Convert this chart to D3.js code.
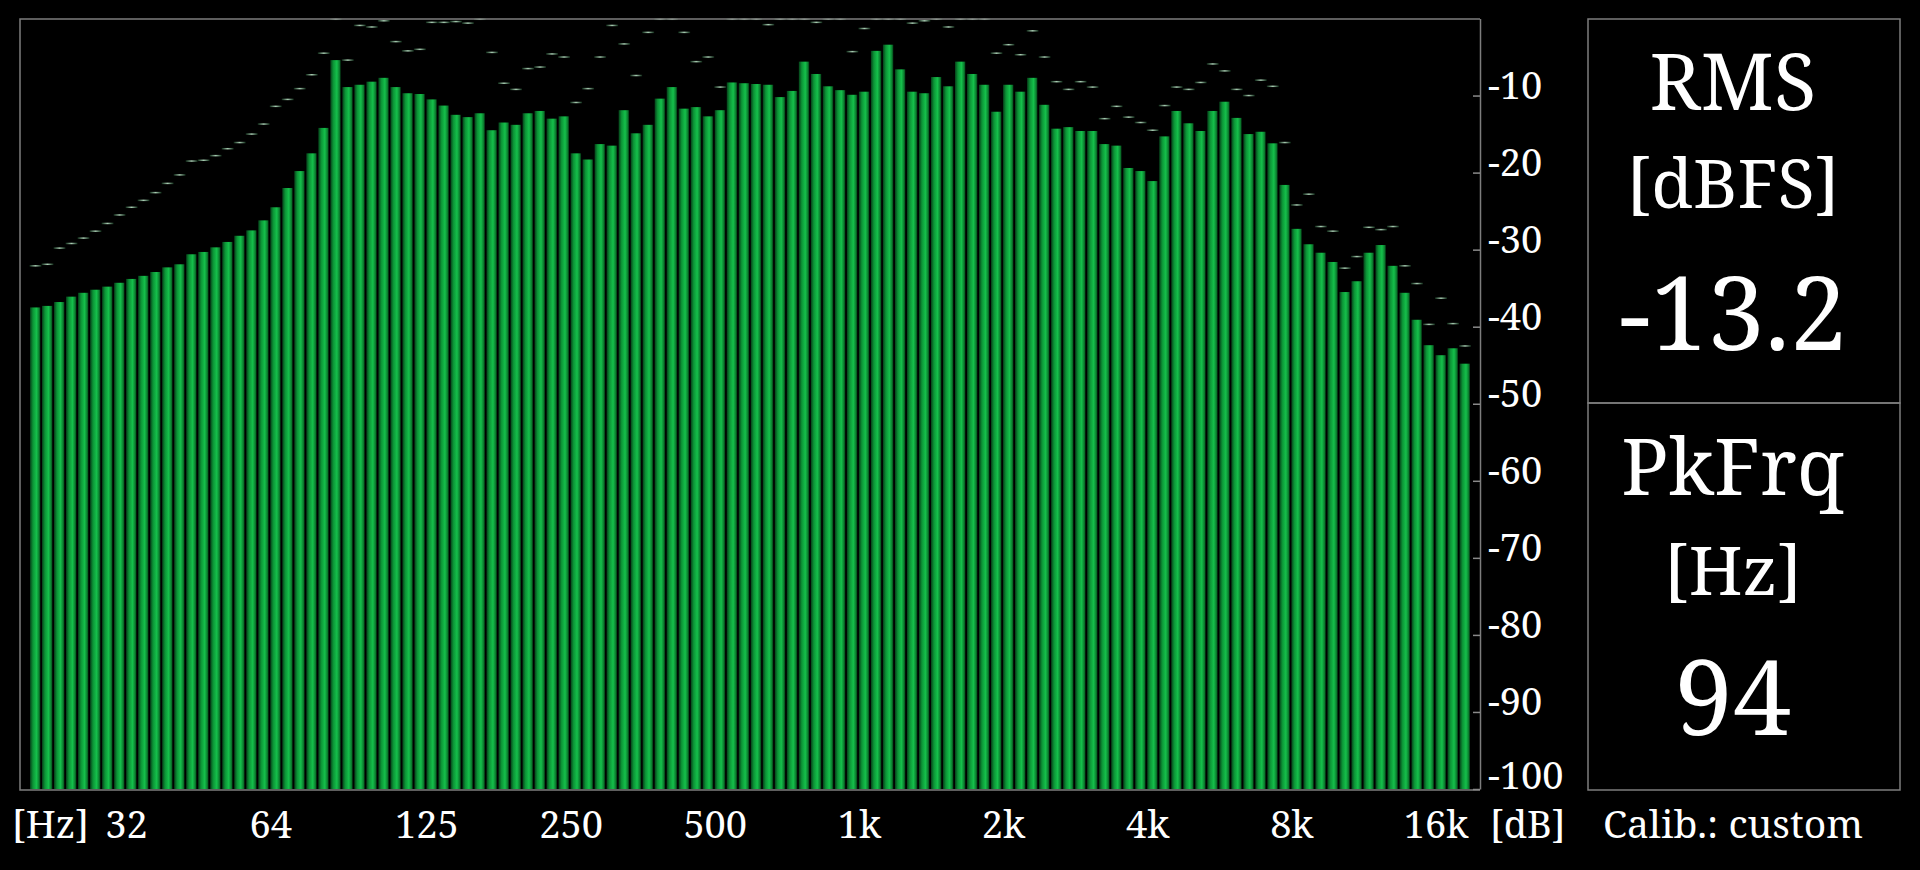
<!DOCTYPE html>
<html>
<head>
<meta charset="utf-8">
<script src="https://cdn.jsdelivr.net/npm/d3@7/dist/d3.min.js"></script>
<style>
  html, body { margin: 0; padding: 0; background: #000; }
  svg { display: block; }
  text { font-family: "Noto Serif", "DejaVu Serif Condensed", "DejaVu Serif", serif; font-stretch: condensed; fill: #fff; }
</style>
</head>
<body>
<svg id="chart" width="1920" height="870"></svg>
<script>
// 1/12-octave band levels (dB), 120 bands
const bandLevels = [
  -37.5, -37.3, -36.8, -36.1, -35.6, -35.2, -34.8, -34.3, -33.8, -33.4,
  -32.9, -32.3, -31.9, -30.6, -30.3, -29.7, -29.0, -28.2, -27.5, -26.2,
  -24.5, -22.0, -19.8, -17.5, -14.2, -5.4, -8.9, -8.6, -8.2, -7.7,
  -8.9, -9.7, -9.8, -10.5, -11.3, -12.5, -12.8, -12.3, -14.5, -13.5,
  -13.8, -12.3, -12.0, -13.0, -12.7, -17.5, -18.3, -16.3, -16.5, -11.9,
  -14.9, -13.8, -10.4, -8.9, -11.7, -11.5, -12.7, -11.9, -8.3, -8.4,
  -8.5, -8.6, -10.2, -9.4, -5.6, -7.2, -8.8, -9.3, -9.9, -9.5,
  -4.2, -3.4, -6.6, -9.5, -9.7, -7.6, -8.8, -5.6, -7.2, -8.6,
  -12.1, -8.6, -9.5, -7.7, -11.2, -14.3, -14.1, -14.6, -14.6, -16.3,
  -16.5, -19.4, -19.8, -21.1, -15.3, -12.0, -13.6, -14.6, -12.0, -10.8,
  -12.9, -15.0, -14.7, -16.2, -21.6, -27.3, -29.3, -30.4, -31.6, -35.5,
  -34.1, -30.4, -29.4, -32.1, -35.6, -39.1, -42.4, -43.7, -42.8, -44.8
];
// peak-hold levels (dB), 120 bands
const peakHold = [
  -32.1, -31.9, -29.8, -29.2, -28.5, -27.6, -26.6, -25.5, -24.5, -23.6,
  -22.6, -21.4, -20.3, -18.5, -18.4, -17.8, -16.9, -16.1, -15.0, -13.7,
  -11.4, -10.5, -9.1, -7.3, -4.5, -0.1, -5.4, -0.9, -1.1, -0.3,
  -3.0, -4.2, -4.0, -0.5, -0.5, -0.4, -0.6, -0.1, -4.4, -8.4,
  -9.2, -6.5, -6.3, -4.6, -5.0, -10.9, -9.1, -5.0, -0.9, -3.3,
  -7.4, -1.8, -0.1, -0.1, -1.8, -5.6, -5.0, -8.9, -0.1, -0.1,
  -0.1, -0.8, -0.1, -0.1, -0.1, -0.5, -0.1, -0.1, -4.3, -1.3,
  -0.1, -0.1, -0.1, -0.6, -0.3, -0.1, -1.1, -0.1, -0.1, -0.1,
  -4.5, -3.4, -4.7, -1.6, -5.0, -8.2, -9.2, -8.2, -8.9, -13.0,
  -11.4, -12.8, -13.5, -14.5, -11.3, -8.9, -9.2, -8.3, -5.9, -6.8,
  -9.2, -10.0, -8.0, -8.8, -16.1, -24.2, -22.8, -27.0, -27.6, -32.4,
  -30.9, -27.1, -27.4, -27.0, -32.1, -34.4, -39.7, -36.3, -39.6, -42.5
];
// x tick labels sit on band boundaries
const xTickBoundary = [8, 20, 33, 45, 57, 69, 81, 93, 105, 117];
const xTickLabels = ["32", "64", "125", "250", "500", "1k", "2k", "4k", "8k", "16k"];
const yTicks = [-10, -20, -30, -40, -50, -60, -70, -80, -90, -100];
const rmsValue = "-13.2";
const peakFreq = "94";
const calibText = "Calib.: custom";

const svg = d3.select("#chart");
const frame = { left: 20, top: 19, right: 1480, bottom: 790 };
const barRange = [30, 1470];

const idx = d3.range(bandLevels.length);
const x = d3.scaleBand().domain(idx).range(barRange).paddingInner(0.13).paddingOuter(0);
const xBoundary = d3.scaleLinear().domain([0, bandLevels.length]).range([barRange[0], barRange[0] + x.step() * bandLevels.length]);
const y = d3.scaleLinear().domain([-100, 0]).range([789, 18.5]);

const defs = svg.append("defs");
const g1 = defs.append("linearGradient").attr("id", "barGrad").attr("x1", 0).attr("x2", 1).attr("y1", 0).attr("y2", 0);
[[0, "#054019"], [0.28, "#0c9436"], [0.62, "#15c04b"], [0.88, "#0b7a2d"], [1, "#032c10"]]
  .forEach(([o, c]) => g1.append("stop").attr("offset", o).attr("stop-color", c));
const g2 = defs.append("linearGradient").attr("id", "peakGrad").attr("x1", 0).attr("x2", 1).attr("y1", 0).attr("y2", 0);
[[0, "#0d2a16"], [0.5, "#a9cdb3"], [1, "#0d2a16"]]
  .forEach(([o, c]) => g2.append("stop").attr("offset", o).attr("stop-color", c));

// bars
svg.append("g").selectAll("rect").data(bandLevels).join("rect")
  .attr("x", (d, i) => x(i))
  .attr("y", d => y(d))
  .attr("width", x.bandwidth())
  .attr("height", d => y(-100) - y(d))
  .attr("fill", "url(#barGrad)");

// peak-hold markers
svg.append("g").selectAll("rect").data(peakHold).join("rect")
  .attr("x", (d, i) => x(i) - 0.5)
  .attr("y", d => Math.max(y(d), frame.top) - 0.75)
  .attr("width", x.bandwidth() + 1.5)
  .attr("height", 1.5)
  .attr("fill", "url(#peakGrad)");

// frame
svg.append("path")
  .attr("d", `M${frame.right},${frame.top}H${frame.left}V${frame.bottom}H${frame.right}`)
  .attr("fill", "none").attr("stroke", "#7d7d7d").attr("stroke-width", 1.5);

// y axis (right side)
const yAxis = d3.axisLeft(y).tickValues(yTicks).tickSize(7).tickSizeOuter(0).tickFormat(d => String(d));
const ya = svg.append("g").attr("transform", `translate(${frame.right},0)`).call(yAxis);
ya.select(".domain").attr("stroke", "#7d7d7d").attr("stroke-width", 1.5);
ya.selectAll(".tick line").attr("stroke", "#8a8a8a").attr("stroke-width", 1.5);
ya.selectAll(".tick text")
  .attr("x", 8).attr("dy", d => d === -100 ? -1 : 3).attr("text-anchor", "start")
  .attr("fill", "#fff").style("font-size", "38px")
  .style("font-family", null);

// x axis labels
const xAxis = d3.axisBottom(xBoundary).tickValues(xTickBoundary).tickSize(0)
  .tickFormat((d, i) => xTickLabels[i]);
const xa = svg.append("g").attr("transform", `translate(0,${frame.bottom})`).call(xAxis);
xa.select(".domain").remove();
xa.selectAll(".tick text").attr("y", 0).attr("dy", 48).attr("fill", "#fff").style("font-size", "38px").style("font-family", null);

svg.append("text").attr("x", 12).attr("y", 838).style("font-size", "38px").text("[Hz]");
svg.append("text").attr("x", 1490).attr("y", 838).style("font-size", "38px").text("[dB]");

// right panel
const panel = { left: 1588, right: 1900, mid: 403 };
svg.append("rect").attr("x", panel.left).attr("y", frame.top).attr("width", panel.right - panel.left).attr("height", panel.mid - frame.top)
  .attr("fill", "none").attr("stroke", "#7d7d7d").attr("stroke-width", 1.5);
svg.append("rect").attr("x", panel.left).attr("y", panel.mid).attr("width", panel.right - panel.left).attr("height", frame.bottom - panel.mid)
  .attr("fill", "none").attr("stroke", "#7d7d7d").attr("stroke-width", 1.5);

const cx = 1733;
const panelTexts = [
  { t: "RMS", y: 110, s: 78 },
  { t: "[dBFS]", y: 208, s: 68 },
  { t: rmsValue, y: 350, s: 102 },
  { t: "PkFrq", y: 495, s: 78 },
  { t: "[Hz]", y: 595, s: 68 },
  { t: peakFreq, y: 735, s: 104 },
  { t: calibText, y: 838, s: 39 }
];
svg.append("g").selectAll("text").data(panelTexts).join("text")
  .attr("x", cx).attr("y", d => d.y).attr("text-anchor", "middle")
  .style("font-size", d => d.s + "px").text(d => d.t);
</script>
</body>
</html>
